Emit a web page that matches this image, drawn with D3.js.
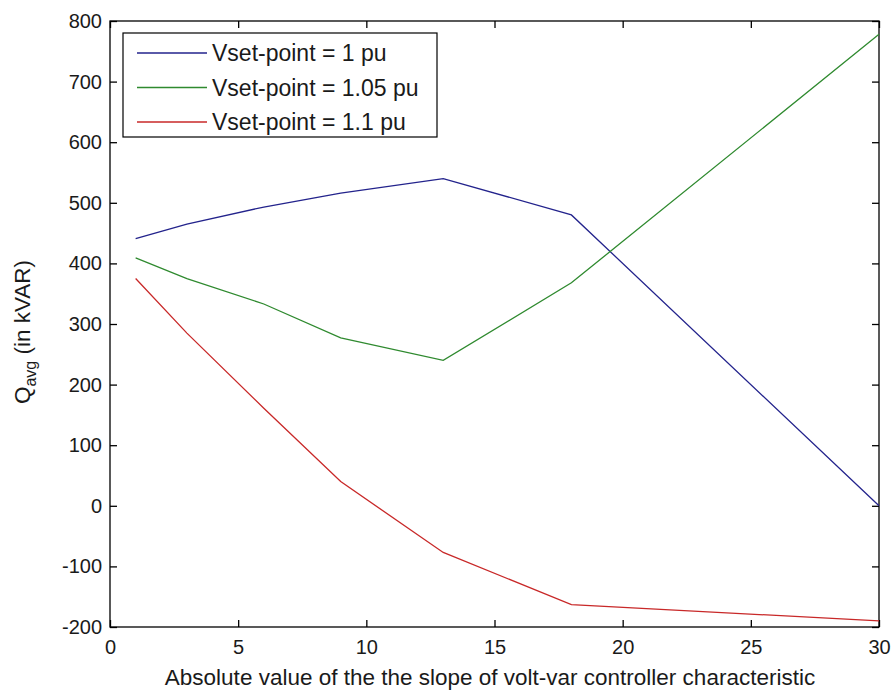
<!DOCTYPE html>
<html><head><meta charset="utf-8">
<script src="https://cdn.jsdelivr.net/npm/d3@7"></script>
<style>body{margin:0;background:#fff;} text{font-family:"Liberation Sans",Arial,sans-serif;}</style>
</head><body>
<script>
const xValues = [1, 3, 6, 9, 13, 18, 30];
const blueValues = [441, 465, 493, 516, 540, 480, 0];
const greenValues = [409, 375, 333, 277, 240, 368, 778];
const redValues = [375, 285, 161, 40, -77, -163, -190];
const seriesNames = ["Vset-point = 1 pu", "Vset-point = 1.05 pu", "Vset-point = 1.1 pu"];
const seriesColors = ["#23238c", "#2f8a2f", "#c82828"];
const xTicks = [0, 5, 10, 15, 20, 25, 30];
const yTicks = [-200, -100, 0, 100, 200, 300, 400, 500, 600, 700, 800];
const xLabel = "Absolute value of the the slope of volt-var controller characteristic";

const W = 894, H = 694;
const m = {left:110, top:21, right:879, bottom:627};
const svg = d3.select("body").append("svg").attr("width", W).attr("height", H);
const x = d3.scaleLinear().domain([0,30]).range([m.left, m.right]);
const y = d3.scaleLinear().domain([-200,800]).range([m.bottom, m.top]);
const tickFs = 20, labFs = 22.5, legFs = 23;
const txtCol = "#1a1a1a";

// frame
svg.append("rect").attr("x", m.left).attr("y", m.top).attr("width", m.right-m.left).attr("height", m.bottom-m.top)
  .attr("fill","#fff").attr("stroke","#000").attr("stroke-width",1.3);

// axes (ticks inward)
const tl = 7;
const axB = svg.append("g").attr("transform",`translate(0,${m.bottom})`)
  .call(d3.axisBottom(x).tickValues(xTicks).tickSizeInner(-tl).tickSizeOuter(0).tickPadding(tl+6).tickFormat(d3.format("d")));
const axT = svg.append("g").attr("transform",`translate(0,${m.top})`)
  .call(d3.axisTop(x).tickValues(xTicks).tickSizeInner(-tl).tickSizeOuter(0).tickFormat(""));
const axL = svg.append("g").attr("transform",`translate(${m.left},0)`)
  .call(d3.axisLeft(y).tickValues(yTicks).tickSizeInner(-tl).tickSizeOuter(0).tickPadding(tl+1).tickFormat(d => d < 0 ? "-" + Math.abs(d) : d));
const axR = svg.append("g").attr("transform",`translate(${m.right},0)`)
  .call(d3.axisRight(y).tickValues(yTicks).tickSizeInner(-tl).tickSizeOuter(0).tickFormat(""));
[axB,axT,axL,axR].forEach(a=>{a.select(".domain").remove(); a.selectAll("line").attr("stroke","#000").attr("stroke-width",1.3);
  a.selectAll("text").attr("font-size",tickFs).attr("fill",txtCol).attr("font-family","'Liberation Sans',Arial,sans-serif");});

// lines
const line = d3.line().x((d,i)=>x(xValues[i])).y(d=>y(d));
[blueValues, greenValues, redValues].forEach((vals,k)=>{
  svg.append("path").datum(vals).attr("d", line).attr("fill","none").attr("stroke", seriesColors[k]).attr("stroke-width",1.3);
});

// legend
const lg = svg.append("g");
lg.append("rect").attr("x",123).attr("y",33).attr("width",314).attr("height",104).attr("fill","#fff").attr("stroke","#000").attr("stroke-width",1.2);
seriesNames.forEach((n,k)=>{
  const yy = 53 + k*34.5;
  lg.append("line").attr("x1",137).attr("x2",207).attr("y1",yy).attr("y2",yy).attr("stroke",seriesColors[k]).attr("stroke-width",1.3);
  lg.append("text").attr("x",212).attr("y",yy).attr("dy","0.35em").attr("font-size",legFs).attr("fill",txtCol).text(n);
});

// x label
svg.append("text").attr("x",(162+818)/2).attr("y",685).attr("text-anchor","middle").attr("font-size",labFs).attr("fill",txtCol).text(xLabel);

// y label
const yl = svg.append("text").attr("transform","translate(30,332) rotate(-90)").attr("text-anchor","middle").attr("font-size",labFs).attr("fill",txtCol);
yl.append("tspan").text("Q");
yl.append("tspan").attr("font-size",16).attr("dy",6).text("avg");
yl.append("tspan").attr("dy",-6).text(" (in kVAR)");
</script>
</body></html>
